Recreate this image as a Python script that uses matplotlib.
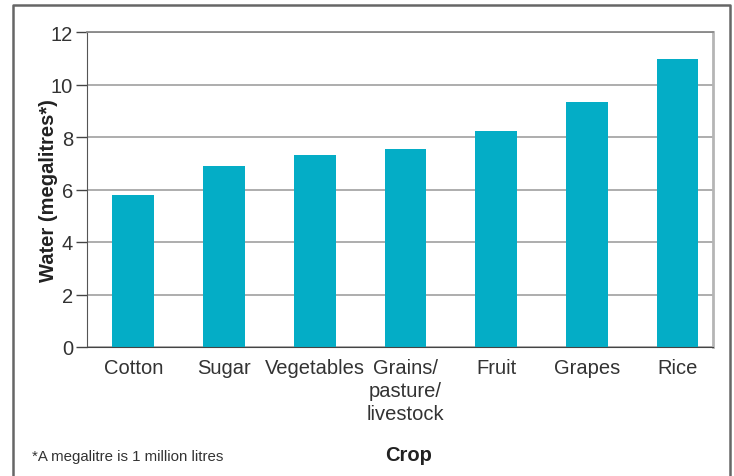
import matplotlib.pyplot as plt
from matplotlib.lines import Line2D

crops = ["Cotton", "Sugar", "Vegetables", "Grains/\npasture/\nlivestock", "Fruit", "Grapes", "Rice"]
water = [5.8, 6.9, 7.3, 7.55, 8.23, 9.33, 10.97]

plt.rcParams["font.family"] = ["Liberation Sans", "DejaVu Sans"]
text_col = "#333333"

fig = plt.figure(figsize=(7.34, 4.77), dpi=100)
ax = fig.add_axes([87 / 734, 1 - 348 / 477, 626 / 734, 315 / 477])

x = range(len(crops))
ax.bar(x, water, width=0.46, color="#04adc6", zorder=2)

ax.set_ylim(0, 12)
ax.set_xlim(-0.51, 6.39)
ax.set_yticks(range(0, 13, 2))
ax.set_xticks(list(x))
ax.set_xticklabels(crops, fontsize=14.5, color=text_col, linespacing=1.25)
ax.tick_params(axis="x", length=0, pad=8)
ax.tick_params(axis="y", length=8, width=1, color="#444444", labelsize=14.5,
               labelcolor=text_col, pad=2)
ax.yaxis.grid(True, color="#a0a0a0", linewidth=1.2, zorder=0)

ax.spines["left"].set_color("#555555")
ax.spines["bottom"].set_color("#444444")
ax.spines["top"].set_color("#888888")
ax.spines["top"].set_linewidth(1.3)
ax.spines["right"].set_color("#b5b5b5")
ax.spines["right"].set_linewidth(2)

ax.set_ylabel("Water (megalitres*)", fontsize=14.5, fontweight="bold", color="#222222", labelpad=-5)

fig.text(409 / 734, 1 - 456 / 477, "Crop", fontsize=14.5, fontweight="bold",
         color="#222222", ha="center", va="center")
fig.text(32 / 734, 1 - 457 / 477, "*A megalitre is 1 million litres", fontsize=10.8,
         color=text_col, ha="left", va="center")

# outer frame (open at the bottom)
frame_x = [13 / 734, 13 / 734, 730 / 734, 730 / 734]
frame_y = [0, 1 - 6 / 477, 1 - 6 / 477, 0]
fig.add_artist(Line2D(frame_x, frame_y, color="#666666", linewidth=1.8,
                      transform=fig.transFigure))

fig.savefig("out.png", dpi=100)
